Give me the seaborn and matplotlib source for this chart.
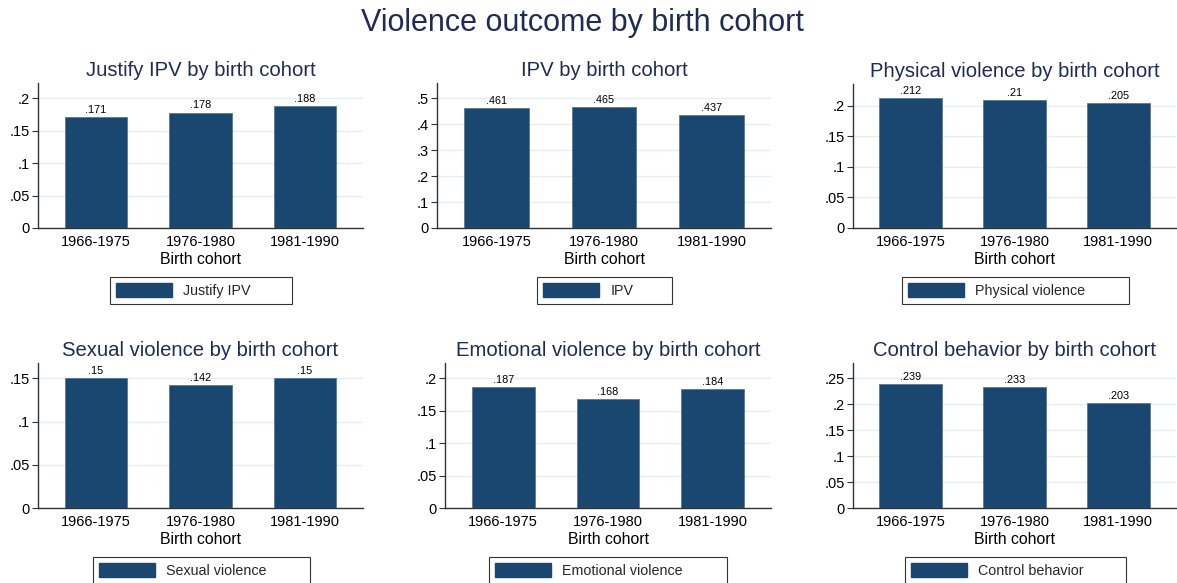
import matplotlib
matplotlib.use("Agg")
import matplotlib.pyplot as plt
import seaborn as sns
import pandas as pd
from matplotlib.patches import Patch
from matplotlib.ticker import FuncFormatter, MultipleLocator

# ---------------- data ----------------
cohorts = ["1966-1975", "1976-1980", "1981-1990"]
justify_ipv = [0.171, 0.178, 0.188]
ipv = [0.461, 0.465, 0.437]
physical_violence = [0.212, 0.21, 0.205]
sexual_violence = [0.15, 0.142, 0.15]
emotional_violence = [0.187, 0.168, 0.184]
control_behavior = [0.239, 0.233, 0.203]

series = [justify_ipv, ipv, physical_violence,
          sexual_violence, emotional_violence, control_behavior]
panel_titles = ["Justify IPV by birth cohort", "IPV by birth cohort",
                "Physical violence by birth cohort", "Sexual violence by birth cohort",
                "Emotional violence by birth cohort", "Control behavior by birth cohort"]
legend_labels = ["Justify IPV", "IPV", "Physical violence",
                 "Sexual violence", "Emotional violence", "Control behavior"]
main_title = "Violence outcome by birth cohort"
x_label = "Birth cohort"

# ---------------- layout / style ----------------
W, H, DPI = 1177, 583, 100
BAR = "#1a476f"
TITLE_C = "#1e2c55"
GRID_C = "#e4edf1"

# axes boxes in pixels: (x0, x1, y0, y1) top-origin
axes_px = [(38, 363, 83, 228), (437, 771, 83, 228), (853, 1176, 84, 228),
           (38, 363, 363, 508), (445, 771, 363, 508), (853, 1176, 363, 508)]
ylims = [0.2236, 0.559, 0.2355, 0.1677, 0.2236, 0.2795]
ysteps = [0.05, 0.1, 0.05, 0.05, 0.05, 0.05]
ymaxtick = [0.2, 0.5, 0.2, 0.15, 0.2, 0.25]
legend_px = [(110, 292, 277), (537, 672, 277), (902, 1129, 277),
             (93, 310, 557), (489, 727, 557), (905, 1126, 557)]

sns.set_theme(style="white")
plt.rcParams["font.family"] = ["Liberation Sans", "DejaVu Sans"]

fig = plt.figure(figsize=(W / DPI, H / DPI), dpi=DPI)
fig.patch.set_facecolor("white")


def rect(x0, x1, y0, y1):
    return [x0 / W, 1 - y1 / H, (x1 - x0) / W, (y1 - y0) / H]


def fmt(v, pos=None):
    if abs(v) < 1e-12:
        return "0"
    s = f"{v:.3g}"
    return s.lstrip("0") if s.startswith("0") else s


for i, vals in enumerate(series):
    ax = fig.add_axes(rect(*axes_px[i]))
    df = pd.DataFrame({"cohort": cohorts, "value": vals})
    sns.barplot(data=df, x="cohort", y="value", color=BAR, saturation=1,
                width=0.6, errorbar=None, ax=ax, edgecolor="#4f6f90", linewidth=0.5,
                zorder=3)
    ax.set_xlim(-0.555, 2.555)
    ax.set_ylim(0, ylims[i])
    ax.yaxis.set_major_locator(MultipleLocator(ysteps[i]))
    ax.yaxis.set_major_formatter(FuncFormatter(fmt))
    ax.set_yticks([t * ysteps[i] for t in range(int(round(ymaxtick[i] / ysteps[i])) + 1)])
    ax.grid(axis="y", color=GRID_C, linewidth=1.0, zorder=0)
    ax.set_axisbelow(True)
    for s in ["top", "right"]:
        ax.spines[s].set_visible(False)
    for s in ["left", "bottom"]:
        ax.spines[s].set_color("#333333")
        ax.spines[s].set_linewidth(1.0)
    ax.tick_params(axis="y", direction="out", length=4, width=0.8, color="#333333",
                   labelsize=10.5, pad=2, left=True, labelcolor="black")
    ax.tick_params(axis="x", length=0, labelsize=10.5, pad=5, labelcolor="black")
    ax.set_xlabel(x_label, fontsize=11.4, color="black", labelpad=2)
    ax.set_ylabel("")
    ax.set_title(panel_titles[i], fontsize=14.6, color=TITLE_C, pad=5)

    for j, v in enumerate(vals):
        ax.annotate(fmt(v), xy=(j, v), xytext=(0, 1.5), textcoords="offset points",
                    ha="center", va="bottom", fontsize=7.8, color="black")

    lx0, lx1, ly0 = legend_px[i]
    leg = ax.legend(handles=[Patch(facecolor=BAR, edgecolor=BAR)],
                    labels=[legend_labels[i]],
                    loc="upper left",
                    bbox_to_anchor=(lx0 / W, 1 - ly0 / H - 0.1, (lx1 - lx0) / W, 0.1),
                    bbox_transform=fig.transFigure, mode="expand",
                    borderaxespad=0, borderpad=0.42, handlelength=3.9,
                    handleheight=1.1, handletextpad=0.8, fontsize=10.3,
                    frameon=True, fancybox=False)
    leg.get_frame().set_edgecolor("black")
    leg.get_frame().set_linewidth(0.8)

fig.text(582 / W, 1 - 23 / H, main_title, ha="center", va="center",
         fontsize=22, color=TITLE_C)

fig.savefig("out.png", dpi=DPI, facecolor="white")
